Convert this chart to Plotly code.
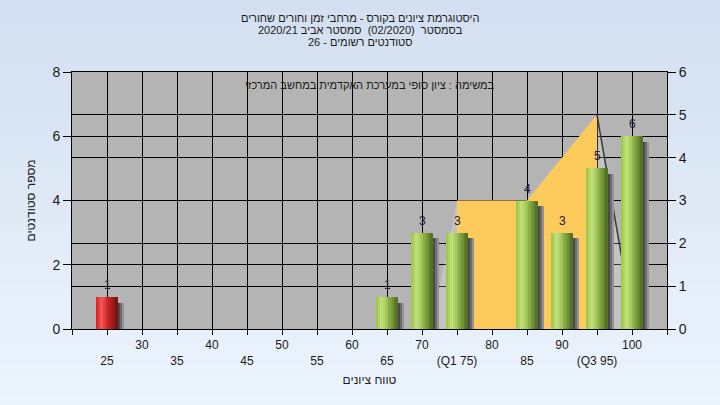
import plotly.graph_objects as go

# ---------------- data ----------------
scores = [25, 65, 70, 75, 85, 90, 95, 100]
counts = [1, 1, 3, 3, 4, 3, 5, 6]
bar_group = ["fail", "pass", "pass", "pass", "pass", "pass", "pass", "pass"]

# quartile band (right axis units)
quart_x = [75, 75, 85, 95, 95]
quart_y = [0, 3, 3, 5, 0]
# envelope (right axis units)
env_x = [71.3, 75, 85, 95, 100.3]
env_y = [0, 3, 3, 5, 0]

x_tickvals = [20, 25, 30, 35, 40, 45, 50, 55, 60, 65, 70, 75, 80, 85, 90, 95, 100, 105]
x_ticklabels = ["", "25", "30", "35", "40", "45", "50", "55", "60", "65", "70",
                "(Q1 75)", "80", "85", "90", "(Q3 95)", "100", ""]

title_lines = [
    "היסטוגרמת ציונים בקורס - מרחבי זמן וחורים שחורים",
    "בסמסטר\u00a0\u00a0(02/2020)\u00a0\u00a0סמסטר אביב 2020/21",
    "סטודנטים רשומים - 26",
]
subtitle = "במשימה : ציון סופי במערכת האקדמית במחשב המרכזי"
x_title = "טווח ציונים"
y_title = "מספר סטודנטים"

# ---------------- style ----------------
FONT = "Liberation Sans, Arial, sans-serif"
LEFT_MAX, RIGHT_MAX = 8, 6
BAR_W = 3.0
N_SLICES = 12

stops = {
    "pass": [(0.0, (150, 196, 62)), (0.25, (198, 226, 130)), (0.5, (160, 196, 84)),
             (0.78, (112, 146, 56)), (1.0, (80, 106, 34))],
    "fail": [(0.0, (226, 26, 26)), (0.25, (244, 96, 96)), (0.5, (212, 40, 40)),
             (0.78, (160, 28, 28)), (1.0, (112, 18, 18))],
}


def interp(st, t):
    for (t0, c0), (t1, c1) in zip(st, st[1:]):
        if t0 <= t <= t1:
            f = (t - t0) / (t1 - t0)
            return "rgb(%d,%d,%d)" % tuple(round(a + (b - a) * f) for a, b in zip(c0, c1))
    return "rgb(%d,%d,%d)" % st[-1][1]


fig = go.Figure()

# ---- main subplot (right axis, drawn below) ----
fig.add_trace(go.Scatter(x=env_x, y=env_y, yaxis="y", mode="none", fill="toself",
                         fillcolor="rgba(255,255,255,0.2)", hoverinfo="skip", showlegend=False))
fig.add_trace(go.Scatter(x=quart_x, y=quart_y, yaxis="y", mode="none", fill="toself",
                         fillcolor="#FDCA5C", hoverinfo="skip", showlegend=False))
fig.add_trace(go.Scatter(x=env_x[-2:], y=env_y[-2:], yaxis="y", mode="lines",
                         line=dict(color="#3a3a3a", width=1.5), hoverinfo="skip", showlegend=False))

# ---- overlay subplot (left axis, drawn above) ----
SH_W = 0.34
for j, col in enumerate(["#4a4a4a", "#6e6e6e", "#939393"]):
    fig.add_trace(go.Bar(x=scores, y=[c - 0.18 for c in counts], yaxis="y2",
                         offset=BAR_W / 2 - 0.05 + j * SH_W, width=SH_W,
                         marker=dict(color=col, line=dict(width=0)),
                         hoverinfo="skip", showlegend=False))

for grp in ["fail", "pass"]:
    xs = [s for s, g in zip(scores, bar_group) if g == grp]
    ys = [c for c, g in zip(counts, bar_group) if g == grp]
    for k in range(N_SLICES):
        t = (k + 0.5) / N_SLICES
        fig.add_trace(go.Bar(x=xs, y=ys, yaxis="y2", offset=-BAR_W / 2 + k * BAR_W / N_SLICES,
                             width=BAR_W / N_SLICES * 1.05,
                             marker=dict(color=interp(stops[grp], t), line=dict(width=0)),
                             hoverinfo="skip", showlegend=False))

# background gradient strips + gray plot area
shapes = []
top_c, bot_c = (211, 223, 240), (236, 244, 253)
y_top, y_bot = 329 / 257, (329 - 405) / 257
N = 40
for i in range(N):
    f = i / (N - 1)
    col = "rgb(%d,%d,%d)" % tuple(round(a + (b - a) * f) for a, b in zip(top_c, bot_c))
    y0 = y_top + (y_bot - y_top) * i / N
    y1 = y_top + (y_bot - y_top) * (i + 1) / N
    shapes.append(dict(type="rect", xref="paper", yref="paper", x0=-0.2, x1=1.2, y0=y1 - 0.005, y1=y0,
                       fillcolor=col, line=dict(width=0), layer="below"))
shapes.append(dict(type="rect", xref="paper", yref="paper", x0=0, x1=1, y0=0, y1=1,
                   fillcolor="#b4b4b4", line=dict(width=0), layer="below"))

annotations = []
for i, line in enumerate(title_lines):
    ypx = 18 + 12 * i
    annotations.append(dict(text=line, xref="paper", yref="paper", x=(360 - 72) / 595, y=(329 - ypx) / 257,
                            xanchor="center", yanchor="middle", showarrow=False,
                            font=dict(family=FONT, size=11, color="#1a1a1a")))
annotations.append(dict(text=subtitle, xref="paper", yref="paper", x=0.5, y=(329 - 85) / 257,
                        xanchor="center", yanchor="middle", showarrow=False,
                        font=dict(family=FONT, size=11, color="#1a1a1a")))
# value labels above bars
for s, c in zip(scores, counts):
    annotations.append(dict(text=str(c), x=s, y=c, xref="x", yref="y2", xanchor="center",
                            yanchor="bottom", yshift=3, showarrow=False,
                            font=dict(family=FONT, size=12, color="#1a1a3a")))

ticktext = [("<br>" + t) if i % 2 == 1 else t for i, t in enumerate(x_ticklabels)]

fig.update_layout(
    width=720, height=405,
    margin=dict(l=72, r=53, t=72, b=76),
    paper_bgcolor="#dfe9f6", plot_bgcolor="rgba(0,0,0,0)",
    barmode="overlay", bargap=0,
    font=dict(family=FONT, size=12, color="#1a1a1a"),
    shapes=shapes, annotations=annotations,
    xaxis=dict(range=[20, 105], tickvals=x_tickvals, ticktext=ticktext, ticks="outside", ticklen=5,
               tickcolor="black", showgrid=True, gridcolor="black", gridwidth=1, showline=True,
               linecolor="black", mirror=True, zeroline=False, tickfont=dict(size=12, color="#1a1a1a"),
               title=dict(text=x_title, font=dict(size=12), standoff=8)),
    yaxis=dict(range=[0, RIGHT_MAX], dtick=1, side="right", ticks="outside", ticklen=8,
               tickcolor="black", showgrid=True, gridcolor="black", gridwidth=1, showline=True,
               linecolor="black", zeroline=False, tickfont=dict(size=14, color="#1a1a1a")),
    yaxis2=dict(range=[0, LEFT_MAX], dtick=2, overlaying="y", side="left", ticks="outside", ticklen=8,
                tickcolor="black", showgrid=True, gridcolor="black", gridwidth=1, showline=True,
                linecolor="black", zeroline=False, tickfont=dict(size=14, color="#1a1a1a"),
                title=dict(text=y_title, font=dict(size=12), standoff=14)),
)

fig.write_html("out.html", config={"displayModeBar": False},
               post_script="document.body.style.margin='0';")
